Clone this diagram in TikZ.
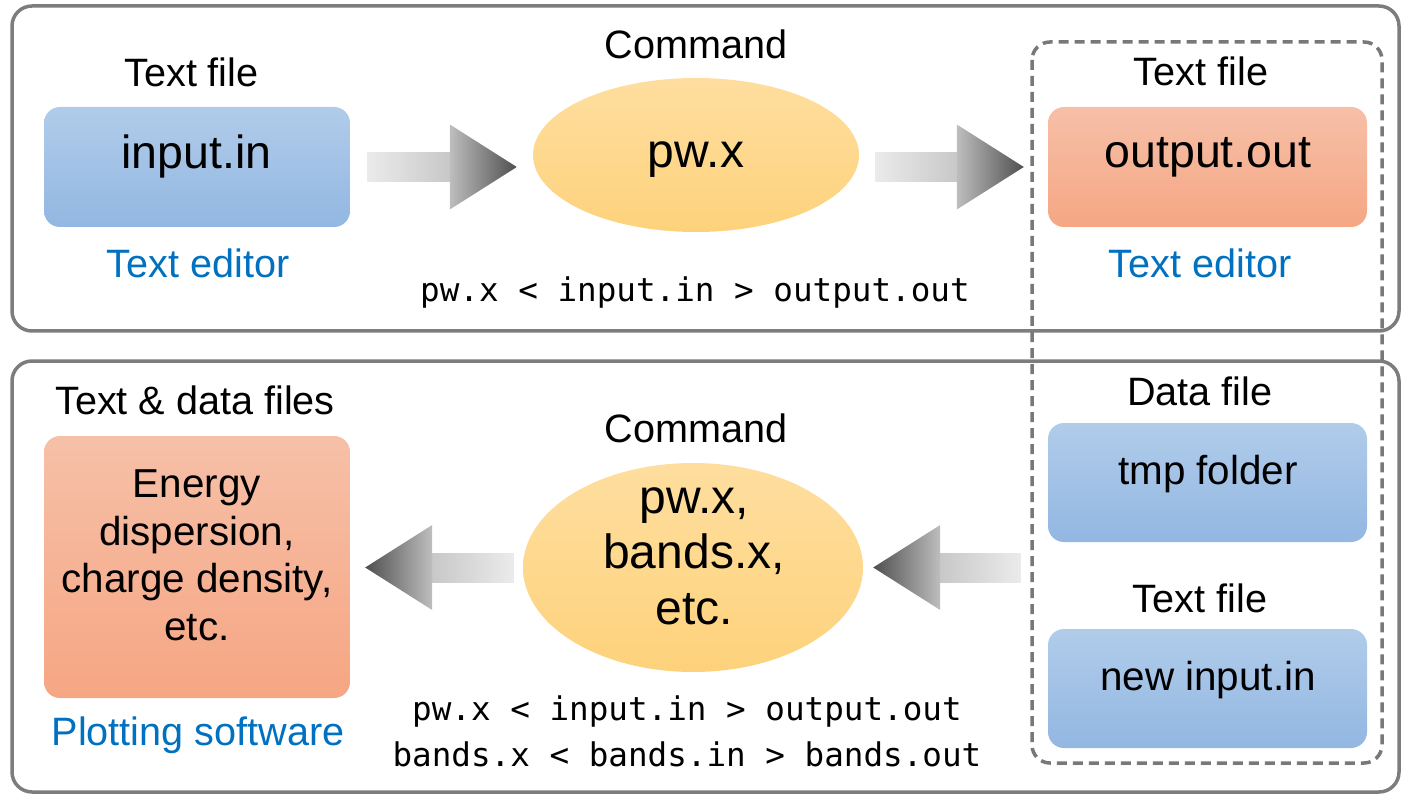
\documentclass[tikz,border=0pt]{standalone}
\usepackage{fontspec}
\setmainfont{Liberation Sans}
\setmonofont{DejaVu Sans Mono}
\usetikzlibrary{shapes.geometric,calc}

\definecolor{framegray}{HTML}{7D7D7D}
\definecolor{dashgray}{HTML}{77787C}
\definecolor{bluetop}{HTML}{B1CCEA}
\definecolor{bluebot}{HTML}{92B7E2}
\definecolor{orangetop}{HTML}{F6C0A8}
\definecolor{orangebot}{HTML}{F6A683}
\definecolor{yellowtop}{HTML}{FEDE9F}
\definecolor{yellowbot}{HTML}{FED27C}
\definecolor{toolblue}{HTML}{0070C0}
\definecolor{arrA}{HTML}{EBEBEB}
\definecolor{arrB}{HTML}{C8C8C8}
\definecolor{arrC}{HTML}{BEBEBE}
\definecolor{arrD}{HTML}{4F4F4F}

% block arrow pointing right: #1 tail, #2 tip (the tail fixes the height)
\newcommand\fatarrowright[2]{%
  \shade[left color=arrA, right color=arrB]
    let \p1=(#1), \p2=(#2) in (\x1,\y1-14.5pt) rectangle (\x2-67pt,\y1+14.5pt);
  \shade[left color=arrC, right color=arrD]
    let \p1=(#1), \p2=(#2) in (\x2-67pt,\y1-42.5pt) -- (\x2-67pt,\y1+42.5pt) -- (\x2,\y1) -- cycle;
}
% block arrow pointing left: #1 tail, #2 tip
\newcommand\fatarrowleft[2]{%
  \shade[left color=arrB, right color=arrA]
    let \p1=(#1), \p2=(#2) in (\x2+67pt,\y1-14.5pt) rectangle (\x1,\y1+14.5pt);
  \shade[left color=arrD, right color=arrC]
    let \p1=(#1), \p2=(#2) in (\x2+67pt,\y1-42.5pt) -- (\x2+67pt,\y1+42.5pt) -- (\x2,\y1) -- cycle;
}

\tikzset{
  stageframe/.style={draw=framegray, line width=3.5pt, rounded corners=20pt},
  sharedfiles/.style={draw=dashgray, line width=3.5pt, rounded corners=18pt, dash pattern=on 10pt off 6pt},
  filebox/.style={rectangle, rounded corners=16pt, inner sep=0pt, draw=none},
  bluebox/.style={filebox, top color=bluetop, bottom color=bluebot},
  orangebox/.style={filebox, top color=orangetop, bottom color=orangebot},
  cmdellipse/.style={ellipse, inner sep=0pt, draw=none, top color=yellowtop, bottom color=yellowbot},
  heading/.style={font=\fontsize{39.6}{47}\selectfont, inner sep=0pt, anchor=base},
  toollabel/.style={font=\fontsize{39.6}{47}\selectfont, text=toolblue, inner sep=0pt, anchor=base},
  bigname/.style={font=\fontsize{46.5}{54.5}\selectfont, inner sep=0pt, anchor=base},
  cmdname/.style={font=\fontsize{48}{55.5}\selectfont, inner sep=0pt, anchor=base},
  filename/.style={font=\fontsize{40.4}{47.5}\selectfont, inner sep=0pt, anchor=base},
  shellline/.style={font=\ttfamily\fontsize{32.6}{46}\selectfont, inner sep=0pt, anchor=base},
}

\begin{document}
\begin{tikzpicture}[x=1pt, y=-1pt]
\useasboundingbox (0,0) rectangle (1403,794);

% the two stages
\draw[stageframe] (12,6) rectangle (1399,331);
\draw[stageframe] (12,361) rectangle (1399,792);
% files shared by both stages
\draw[sharedfiles] (1032,42) rectangle (1382,763);

% ---- first stage: SCF run
\node[heading] (tin) at (191.5,86.5) {Text file};
\node[bluebox, minimum width=306pt, minimum height=120pt] (inbox) at (197,167) {};
\node[bigname] (inname) at (196.5,169) {input.in};
\node[toollabel] (edin) at (198,277.5) {Text editor};

\node[heading] (cmdA) at (696,58.5) {Command};
\node[cmdellipse, minimum width=326pt, minimum height=154pt] (pwA) at (696,155) {};
\node[cmdname] (pwname) at (696,168) {pw.x};
\node[shellline] (runA) at (695,302) {pw.x < input.in > output.out};

\node[heading] (tout) at (1201,85.5) {Text file};
\node[orangebox, minimum width=319pt, minimum height=120pt] (outbox) at (1207.5,167) {};
\node[bigname] (outname) at (1208,168) {output.out};
\node[toollabel] (edout) at (1200,277.5) {Text editor};

% ---- second stage: post-processing
\node[heading] (tdata) at (1200,405.5) {Data file};
\node[bluebox, minimum width=319pt, minimum height=119pt] (tmpbox) at (1207.5,482.5) {};
\node[filename] (tmpname) at (1208,484) {tmp folder};

\node[heading] (tnew) at (1200,612.5) {Text file};
\node[bluebox, minimum width=319pt, minimum height=119pt] (newbox) at (1207.5,688.5) {};
\node[filename] (newname) at (1208,690) {new input.in};

\node[heading] (cmdB) at (696,442.5) {Command};
\node[cmdellipse, minimum width=340pt, minimum height=209pt] (pwB) at (693,567.5) {};
\node[cmdname] (pwBname) at (694,513)
  {\begin{tabular}[t]{@{}c@{}}pw.x,\\bands.x,\\etc.\end{tabular}};
\node[shellline] (runB) at (687,720)
  {\begin{tabular}[t]{@{}c@{}}pw.x < input.in > output.out\\bands.x < bands.in > bands.out\end{tabular}};

\node[heading] (tres) at (195,414) {Text \& data files};
\node[orangebox, minimum width=306pt, minimum height=262pt] (resbox) at (197,567) {};
\node[filename] (resname) at (197,497.5)
  {\begin{tabular}[t]{@{}c@{}}Energy\\dispersion,\\charge density,\\etc.\end{tabular}};
\node[toollabel] (plot) at (198,745) {Plotting software};

% ---- flow arrows
\coordinate (a1tail) at ($(inbox.east)+(17,0)$);
\coordinate (a1tip) at ($(pwA.west |- inbox.east)+(-16,0)$);
\fatarrowright{a1tail}{a1tip}

\coordinate (a2tail) at ($(pwA.east |- outbox.west)+(16,0)$);
\coordinate (a2tip) at ($(outbox.west)+(-24,0)$);
\fatarrowright{a2tail}{a2tip}

\coordinate (a3tail) at ($(tmpbox.west |- pwB.east)+(-27,0)$);
\coordinate (a3tip) at ($(pwB.east)+(10,0)$);
\fatarrowleft{a3tail}{a3tip}

\coordinate (a4tail) at ($(pwB.west)+(-9,0)$);
\coordinate (a4tip) at ($(resbox.east |- pwB.west)+(15,0)$);
\fatarrowleft{a4tail}{a4tip}
\end{tikzpicture}
\end{document}
